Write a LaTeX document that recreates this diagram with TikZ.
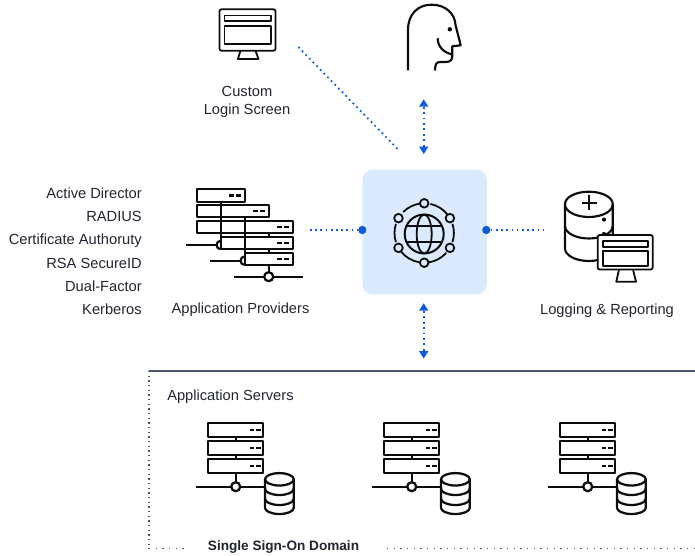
\documentclass[tikz,border=0pt]{standalone}
\usepackage{fontspec}
\setmainfont{Liberation Sans}
\usetikzlibrary{arrows.meta,calc}
\definecolor{ink}{HTML}{0C0C0C}
\definecolor{txt}{HTML}{222530}
\definecolor{bluedot}{HTML}{0B5CD6}
\definecolor{hubfill}{HTML}{DBEAFE}
\definecolor{slate}{HTML}{4A5874}
\definecolor{frdot}{HTML}{555555}
\tikzset{
  x=0.75pt,y=-0.75pt,
  icon/.style={draw=ink,line width=1.7pt,line join=round},
  thin icon/.style={draw=ink,line width=1.35pt,line join=round},
  label/.style={font=\fontsize{11pt}{13pt}\selectfont,text=txt,inner sep=0pt},
  rlabel/.style={label,anchor=east},
  hubbox/.style={fill=hubfill,draw=none,rounded corners=7.5pt,minimum width=93.4pt,minimum height=93.4pt,inner sep=0pt},
  enddot/.style={circle,fill=bluedot,draw=none,minimum size=6.2pt,inner sep=0pt},
  link/.style={draw=bluedot,line width=1.3pt,dash pattern=on 1.3pt off 2.6pt},
  twoway/.style={draw=bluedot,line width=1.45pt,dash pattern=on 1.45pt off 2.65pt,{Triangle[width=7pt,length=5.5pt,fill=bluedot,line width=0pt]}-{Triangle[width=7pt,length=5.5pt,fill=bluedot,line width=0pt]}},
  frsolid/.style={draw=slate,line width=1.5pt},
  frdotted/.style={draw=frdot,line width=1pt,dash pattern=on 1pt off 2.5pt},
  frsparse/.style={draw=frdot,line width=1pt,dash pattern=on 1pt off 4pt},
}
\newcommand{\tworack}[2]{% x centre of bus, y top
\begin{scope}[shift={(#1,#2)}]
  \draw[icon] (-27.7,0) rectangle (27.6,14.6);
  \draw[icon] (-27.7,18.3) rectangle (27.6,32.3);
  \draw[icon] (-27.7,36.3) rectangle (27.6,50.6);
  \foreach \yy in {7.3,25.3,43.5}{\draw[icon] (14,\yy) -- (18.5,\yy) (20.5,\yy) -- (25,\yy);}
  \draw[icon] (0,14.6) -- (0,18.3) (0,32.3) -- (0,36.3) (0,50.6) -- (0,59.5);
  \draw[icon] (-39.7,64) -- (-4.5,64) (4.5,64) -- (29.3,64);
  \draw[icon] (0,64) circle[radius=4.5];
  \draw[icon] (29.3,56.6) arc[start angle=180,end angle=360,x radius=14.4,y radius=6.2]
        -- (58.1,85.1) arc[start angle=0,end angle=180,x radius=14.4,y radius=6.2] -- cycle;
  \foreach \cc in {56.6,66.1,76.1}{
    \draw[icon] (29.3,\cc) arc[start angle=180,end angle=0,x radius=14.4,y radius=6.2];}
\end{scope}}
\newcommand{\screenicon}[2]{% top-left corner
\begin{scope}[shift={(#1,#2)}]
  \draw[thin icon,rounded corners=1.5pt,fill=white] (0,0) rectangle (56,41.4);
  \draw[thin icon] (5,6.3) rectangle (51.5,12);
  \draw[thin icon] (5,16.4) rectangle (51.5,35);
  \draw[thin icon] (21,41.4) -- (18.4,49.7) -- (39,49.7) -- (36,41.4);
\end{scope}}
\begin{document}
\begin{tikzpicture}
\useasboundingbox (0,0) rectangle (695,556);
% custom login screen
\screenicon{219.5}{9.3}
\coordinate (loginEnd) at (298.3,47);
\node[label,align=center] (login1) at (247,91) {Custom};
\node[label,align=center] (login2) at (247,111) {Login Screen};
% person
\draw[icon,line width=1.6pt,line cap=butt] (408,70.5) -- (408,30)
  .. controls (408,14) and (418,4.7) .. (431.5,4.7)
  .. controls (446,4.7) and (455,14) .. (455.5,25)
  -- (460.7,45.3) -- (452.3,46.3) -- (452.3,56)
  .. controls (452.3,60) and (450,62) .. (446,62)
  -- (440,62) .. controls (436,62) and (435,65) .. (435,70.5);
\draw[icon,line width=1.6pt] (437.7,38.3) .. controls (437.7,47) and (444,52.5) .. (451.7,54.3);
\fill[ink] (449.8,29.3) circle[radius=2.2];
% hub
\node[hubbox] (hub) at (424.6,232) {};
\coordinate (globe) at (424.2,234);
\coordinate (ring) at (424.2,233);
\draw[icon,line width=1.5pt] (globe) circle[radius=19.5];
\draw[icon,line width=1.35pt] (globe) ellipse[x radius=7.5,y radius=19.5];
\draw[icon,line width=1.35pt] ($(globe)+(-17.5,-8.3)$) -- ($(globe)+(17.5,-8.3)$)
  ($(globe)+(-17.5,8.3)$) -- ($(globe)+(17.5,8.3)$);
\foreach \aa in {-90,-30,30,90,150,210}{
  \draw[icon,line width=1.35pt] (ring) ++(\aa:29.7) circle[radius=4.3];}
\foreach \st/\en in {225/263,-78/-38,-18/18,42/82,100/142,162/198}{
  \draw[icon,line width=1.35pt] (ring) ++(\st:29.7) arc[start angle=\st,end angle=\en,radius=29.7];}
\node[enddot] (dotL) at (362.3,230) {};
\node[enddot] (dotR) at (486.3,230) {};
% providers
\draw[icon] (196.7,189.3) rectangle (244.7,201.7);
\draw[icon] (196.7,205) rectangle (268.7,217);
\draw[icon] (196.7,221) rectangle (292.7,233);
\draw[icon] (220.7,236.7) rectangle (292.7,249);
\draw[icon] (244.7,252.7) rectangle (292.7,265);
\foreach \xx/\yy in {244.7/195.5,268.7/211,292.7/227,292.7/243,292.7/259}{
  \draw[icon] ({\xx-15.5},\yy) -- ({\xx-10.5},\yy) ({\xx-8.5},\yy) -- ({\xx-3.5},\yy);}
\draw[icon] (220.7,201.7) -- (220.7,236.7) (244.7,217) -- (244.7,252.7) (268.7,233) -- (268.7,236.7) (268.7,249) -- (268.7,252.7) (268.7,265) -- (268.7,272.2);
\draw[icon] (186.3,245) -- (216.5,245) (210.3,260.7) -- (240.5,260.7) (234,276.7) -- (264.2,276.7) (273.2,276.7) -- (303,276.7);
\draw[icon] (220.7,240.8) arc[start angle=-90,end angle=-270,radius=4.2];
\draw[icon] (244.7,256.5) arc[start angle=-90,end angle=-270,radius=4.2];
\draw[icon] (268.7,276.7) circle[radius=4.5];
\coordinate (provEnd) at (310,230);
\node[rlabel] (a1) at (142,193.5) {Active Director};
\node[rlabel] (a2) at (142,216) {RADIUS};
\node[rlabel] (a3) at (142,240.5) {Certificate Authoruty};
\node[rlabel] (a4) at (142,263.5) {RSA SecureID};
\node[rlabel] (a5) at (142,286.5) {Dual-Factor};
\node[rlabel] (a6) at (142,309.5) {Kerberos};
\node[label] (prov) at (240.5,310) {Application Providers};
% logging
\draw[icon,line width=1.6pt] (565,204) arc[start angle=180,end angle=360,x radius=23.85,y radius=12.3]
  -- (612.7,248.5) arc[start angle=0,end angle=180,x radius=23.85,y radius=12.5] -- cycle;
\draw[icon,line width=1.6pt] (565,204.5) arc[start angle=180,end angle=0,x radius=23.85,y radius=12.5];
\draw[icon,line width=1.6pt] (565,226) arc[start angle=180,end angle=0,x radius=23.85,y radius=12.5];
\draw[icon,line width=1.35pt] (581.5,202.7) -- (597,202.7) (589.3,195) -- (589.3,210.4);
\fill[ink] (604,219.6) circle[radius=2.1];
\fill[ink] (604,234) circle[radius=2.1];
\draw[thin icon,rounded corners=1.5pt,fill=white] (597.7,235) rectangle (652.7,269.5);
\draw[thin icon] (602.7,241) rectangle (647.7,246.7);
\draw[thin icon] (602.7,250.7) rectangle (647.7,266);
\draw[thin icon] (619,269.5) -- (616.3,281.7) -- (636,281.7) -- (633,269.5);
\coordinate (logEnd) at (543,230);
\node[label] (log) at (607,311) {Logging \& Reporting};
% connectors
\draw[link] (provEnd) -- (dotL);
\draw[link] (dotR) -- (logEnd);
\coordinate (loginHub) at (399.3,150.7);
\draw[link] (loginEnd) -- (loginHub);
\coordinate (headArrow) at (423.7,99.3);
\coordinate (hubArrowTop) at (423.7,154);
\draw[twoway] (headArrow) -- (hubArrowTop);
\coordinate (hubArrowBot) at (423.7,303.3);
\coordinate (domArrow) at (423.7,358.5);
\draw[twoway] (hubArrowBot) -- (domArrow);
% domain frame
\coordinate (fTL) at (149,371);
\coordinate (fTR) at (695,371);
\coordinate (fBL) at (149,548.5);
\coordinate (fB1) at (186,548.5);
\coordinate (fB2) at (387,548.5);
\coordinate (fBR) at (695,548.5);
\draw[frsolid] (fTL) -- (fTR);
\draw[frdotted] (fTL) -- (fBL);
\draw[frsparse] (fBL) -- (fB1);
\draw[frsparse] (fB2) -- (fBR);
\node[label,anchor=west] (srv) at (167,397) {Application Servers};
\node[label,font=\fontsize{10.2pt}{12pt}\selectfont\bfseries] (dom) at (283.5,547.5) {Single Sign-On Domain};
\tworack{235.7}{422.7}
\tworack{411.7}{422.7}
\tworack{587.7}{422.7}
\end{tikzpicture}
\end{document}
